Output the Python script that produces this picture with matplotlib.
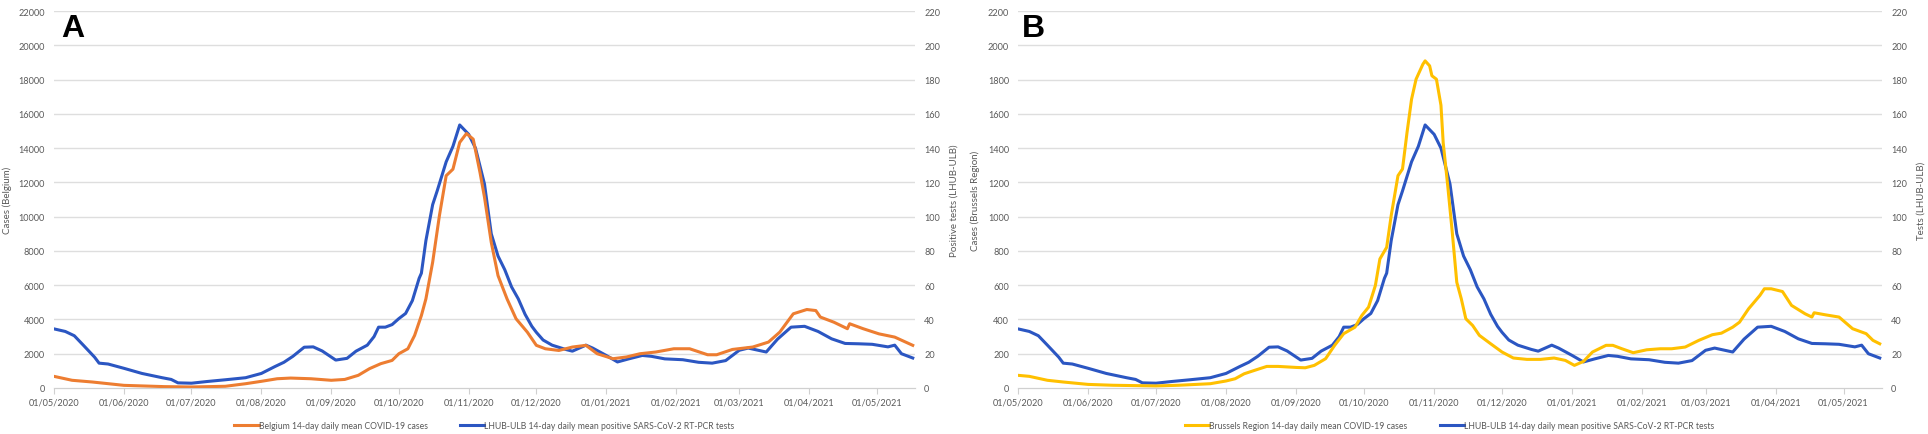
import matplotlib
matplotlib.use("Agg")
import matplotlib.pyplot as plt
import matplotlib.dates as mdates
import pandas as pd

# values (14-day daily means)
tests_dates = [
    "01/05/2020", "06/05/2020", "10/05/2020", "14/05/2020", "19/05/2020", "21/05/2020", "25/05/2020",
    "01/06/2020", "09/06/2020", "18/06/2020", "22/06/2020", "25/06/2020", "01/07/2020", "08/07/2020",
    "16/07/2020", "25/07/2020", "01/08/2020", "07/08/2020", "11/08/2020", "15/08/2020", "20/08/2020",
    "24/08/2020", "28/08/2020", "03/09/2020", "08/09/2020", "12/09/2020", "17/09/2020", "20/09/2020",
    "22/09/2020", "25/09/2020", "28/09/2020", "01/10/2020", "04/10/2020", "07/10/2020", "10/10/2020",
    "11/10/2020", "13/10/2020", "16/10/2020", "18/10/2020", "22/10/2020", "25/10/2020", "28/10/2020",
    "01/11/2020", "04/11/2020", "08/11/2020", "11/11/2020", "14/11/2020", "17/11/2020", "20/11/2020",
    "23/11/2020", "26/11/2020", "29/11/2020", "01/12/2020", "04/12/2020", "08/12/2020", "14/12/2020",
    "17/12/2020", "23/12/2020", "26/12/2020", "01/01/2021", "06/01/2021", "11/01/2021", "17/01/2021",
    "21/01/2021", "27/01/2021", "04/02/2021", "11/02/2021", "17/02/2021", "23/02/2021", "01/03/2021",
    "05/03/2021", "13/03/2021", "18/03/2021", "24/03/2021", "30/03/2021", "05/04/2021", "11/04/2021",
    "17/04/2021", "23/04/2021", "29/04/2021", "06/05/2021", "09/05/2021", "12/05/2021", "17/05/2021",
]
tests = [
    34.5, 33, 30.5, 25, 18, 14.5, 14,
    11.5, 8.5, 6, 5, 3, 2.8, 3.8,
    4.8, 6, 8.5, 12.5, 15, 18.5, 23.8,
    24, 21.6, 16.3, 17.3, 21.5, 25, 30,
    35.5, 35.5, 37, 40.5, 43.5, 51, 64,
    67, 86, 107, 115, 132, 141, 153.5,
    148, 140, 119, 90, 77, 69, 59,
    52, 43, 36, 32.5, 28, 25, 22.5,
    21.5, 25, 23.3, 19, 15.2, 17, 19,
    18.5, 17, 16.5, 15, 14.5, 16, 22,
    23.3, 21, 28.5, 35.5, 36, 33, 28.7,
    26, 25.8, 25.5, 24, 25, 20, 17.5,
]

belgium_dates = [
    "01/05/2020", "09/05/2020", "18/05/2020", "01/06/2020", "19/06/2020", "01/07/2020", "16/07/2020",
    "25/07/2020", "01/08/2020", "08/08/2020", "14/08/2020", "23/08/2020", "01/09/2020", "07/09/2020",
    "13/09/2020", "18/09/2020", "23/09/2020", "28/09/2020", "01/10/2020", "05/10/2020", "08/10/2020",
    "11/10/2020", "13/10/2020", "16/10/2020", "19/10/2020", "22/10/2020", "25/10/2020", "28/10/2020",
    "31/10/2020", "03/11/2020", "06/11/2020", "08/11/2020", "11/11/2020", "14/11/2020", "18/11/2020",
    "22/11/2020", "27/11/2020", "01/12/2020", "05/12/2020", "11/12/2020", "17/12/2020", "23/12/2020",
    "28/12/2020", "04/01/2021", "10/01/2021", "16/01/2021", "23/01/2021", "31/01/2021", "07/02/2021",
    "15/02/2021", "19/02/2021", "26/02/2021", "07/03/2021", "14/03/2021", "19/03/2021", "25/03/2021",
    "31/03/2021", "04/04/2021", "06/04/2021", "12/04/2021", "18/04/2021", "19/04/2021", "25/04/2021",
    "02/05/2021", "09/05/2021", "17/05/2021",
]
belgium_cases = [
    680, 450, 350, 155, 80, 60, 100,
    250, 390, 540, 580, 540, 450, 500,
    740, 1130, 1420, 1610, 2000, 2290, 3070,
    4230, 5200, 7340, 10060, 12390, 12770, 14330,
    14850, 14520, 12580, 11130, 8500, 6560, 5200,
    4040, 3260, 2490, 2290, 2190, 2390, 2490,
    2000, 1710, 1810, 2000, 2100, 2290, 2290,
    1940, 1940, 2250, 2390, 2680, 3260, 4330,
    4580, 4520, 4140, 3840, 3460, 3750, 3460,
    3160, 2970, 2490,
]

brussels_dates = [
    "01/05/2020", "06/05/2020", "14/05/2020", "21/05/2020", "01/06/2020", "12/06/2020", "01/07/2020",
    "11/07/2020", "25/07/2020", "01/08/2020", "05/08/2020", "09/08/2020", "15/08/2020", "19/08/2020",
    "24/08/2020", "01/09/2020", "05/09/2020", "09/09/2020", "14/09/2020", "18/09/2020", "22/09/2020",
    "27/09/2020", "30/09/2020", "03/10/2020", "06/10/2020", "08/10/2020", "11/10/2020", "13/10/2020",
    "16/10/2020", "18/10/2020", "20/10/2020", "22/10/2020", "24/10/2020", "27/10/2020", "28/10/2020",
    "30/10/2020", "31/10/2020", "02/11/2020", "04/11/2020", "05/11/2020", "07/11/2020", "09/11/2020",
    "11/11/2020", "13/11/2020", "15/11/2020", "18/11/2020", "21/11/2020", "26/11/2020", "01/12/2020",
    "06/12/2020", "12/12/2020", "18/12/2020", "24/12/2020", "29/12/2020", "02/01/2021", "06/01/2021",
    "10/01/2021", "16/01/2021", "19/01/2021", "23/01/2021", "28/01/2021", "03/02/2021", "09/02/2021",
    "14/02/2021", "20/02/2021", "26/02/2021", "04/03/2021", "08/03/2021", "13/03/2021", "16/03/2021",
    "20/03/2021", "25/03/2021", "27/03/2021", "30/03/2021", "04/04/2021", "08/04/2021", "14/04/2021",
    "17/04/2021", "18/04/2021", "23/04/2021", "29/04/2021", "05/05/2021", "11/05/2021", "14/05/2021",
    "17/05/2021",
]
brussels_cases = [
    74, 68, 45, 35, 21, 16, 12,
    16, 25, 41, 54, 83, 109, 126,
    126, 120, 118, 132, 171, 249, 317,
    355, 423, 472, 598, 753, 821, 1006,
    1239, 1278, 1491, 1685, 1802, 1889, 1909,
    1880, 1822, 1802, 1650, 1430, 1180, 909,
    617, 520, 404, 365, 307, 258, 210,
    175, 167, 167, 175, 161, 132, 155,
    210, 249, 249, 229, 206, 223, 229,
    229, 239, 278, 311, 320, 355, 384,
    462, 540, 579, 579, 563, 482, 433,
    414, 439, 427, 414, 346, 317, 278,
    258,
]

panels = [
    ("A", belgium_dates, belgium_cases, "Belgium 14-day daily mean COVID-19 cases",
     "#ED7D31", "Cases (Belgium)", "Positive tests (LHUB-ULB)", 22000, 2000),
    ("B", brussels_dates, brussels_cases, "Brussels Region 14-day daily mean COVID-19 cases",
     "#FFC000", "Cases (Brussels Region)", "Tests (LHUB-ULB)", 2200, 200),
]

plt.rcParams['font.family'] = ['Lato', 'DejaVu Sans']
grey = "#595959"
blue = "#2B56C2"

fig = plt.figure(figsize=(19.28, 4.35), dpi=100)
positions = [[54 / 1928, 46 / 435, 861 / 1928, 377 / 435],
             [1018 / 1928, 46 / 435, 864 / 1928, 377 / 435]]
# ylabel x positions (axes fraction), left and right
label_x = [(-0.0488, 1.0407), (-0.044, 1.0405)]

tdates = pd.to_datetime(tests_dates, dayfirst=True)
for pos, lx, (letter, dates, cases, case_label, color, ylab, ylab2, ymax, ystep) in zip(positions, label_x, panels):
    ax = fig.add_axes(pos)
    ax2 = ax.twinx()
    ax.set_zorder(ax2.get_zorder() + 1)
    ax.patch.set_visible(False)

    d = pd.to_datetime(dates, dayfirst=True)
    h2, = ax2.plot(tdates, tests, color=blue, lw=2.2,
                   label="LHUB-ULB 14-day daily mean positive SARS-CoV-2 RT-PCR tests")
    h1, = ax.plot(d, cases, color=color, lw=2.2, label=case_label)

    ax.set_ylim(0, ymax)
    ax.set_yticks(range(0, ymax + 1, ystep))
    ax2.set_ylim(0, 220)
    ax2.set_yticks(range(0, 221, 20))
    ax.set_xlim(pd.Timestamp("2020-05-01"), pd.Timestamp("2021-05-18"))
    ax.xaxis.set_major_locator(mdates.MonthLocator())
    ax.xaxis.set_major_formatter(mdates.DateFormatter("%d/%m/%Y"))

    for v in range(ystep, ymax + 1, ystep):
        ax2.axhline(v * 220 / ymax, color="#dedede", lw=1, zorder=0)
    for a in (ax, ax2):
        for s in ("top", "left", "right"):
            a.spines[s].set_visible(False)
        a.spines["bottom"].set_color("#d0d0d0")
        a.tick_params(axis="y", length=0, labelsize=6.6, labelcolor=grey, pad=6.5)
    ax.tick_params(axis="x", length=4, color="#d0d0d0", labelsize=6.6, labelcolor=grey, pad=3)
    ax.set_ylabel(ylab, fontsize=7, color=grey)
    ax2.set_ylabel(ylab2, fontsize=7, color=grey)
    ax.yaxis.set_label_coords(lx[0], 0.5)
    ax2.yaxis.set_label_coords(lx[1], 0.5)

    ax.text(0.008 if letter == "A" else 0.004, 0.995, letter, transform=ax.transAxes,
            fontsize=23, fontweight="bold", family="Liberation Sans", va="top", ha="left")

    ax.legend([h1, h2], [h1.get_label(), h2.get_label()], loc="upper center",
              bbox_to_anchor=(0.5, -0.068), ncol=2, frameon=False, fontsize=6.2,
              handlelength=2.8, handletextpad=0.0, columnspacing=3.8, labelcolor=grey)

fig.savefig("out.png", dpi=100, facecolor="white")
